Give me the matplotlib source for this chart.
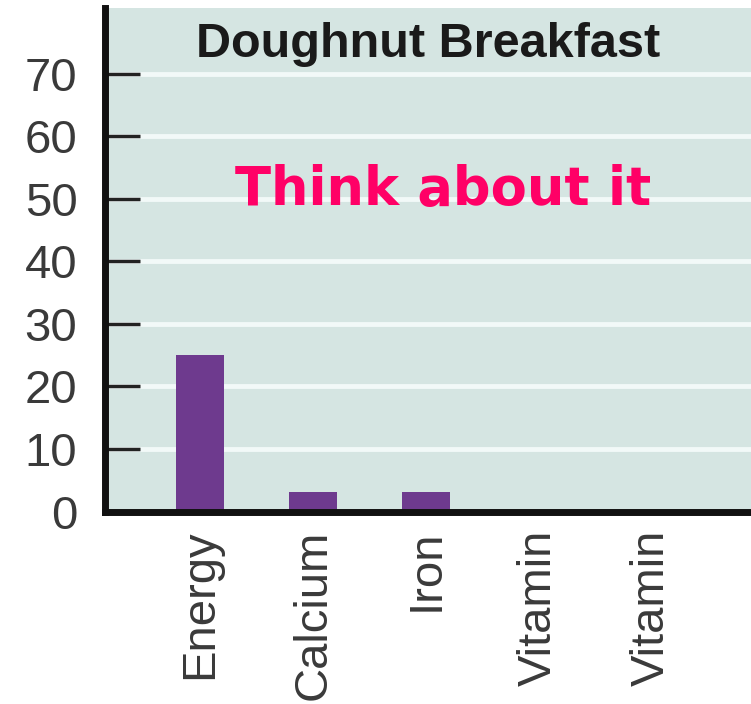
import matplotlib
matplotlib.use("Agg")
import matplotlib.pyplot as plt

# nutrient share (% daily value) from a doughnut breakfast
nutrients = ['Energy', 'Calcium', 'Iron', 'Vitamin', 'Vitamin']
values = [25, 3.2, 3.2, 0, 0]
y_ticks = [0, 10, 20, 30, 40, 50, 60, 70]

title = 'Doughnut Breakfast'
note = 'Think about it'

bg_color = '#d5e5e2'
bar_color = '#6e3a8e'
label_color = '#3a3a3a'

fig = plt.figure(figsize=(7.51, 7.04), dpi=100)
ax = fig.add_axes([0.14, 0.2734, 0.87, 0.7152])
ax.set_facecolor(bg_color)

pos = list(range(len(nutrients)))
ax.bar(pos, values, width=0.43, color=bar_color, zorder=3)

ax.set_xlim(-0.84, 4.94)
ax.set_ylim(0, 80.5)

# white grid lines
ax.set_yticks(y_ticks)
for t in y_ticks[1:]:
    ax.axhline(t, color='#f2f9f8', lw=3.5, zorder=1)

ax.set_xticks(pos)
ax.set_xticklabels(nutrients, rotation=90, fontsize=34, color=label_color,
                   family='Liberation Sans', va='top', ha='center')
ax.set_yticklabels([str(t) for t in y_ticks], fontsize=34, color=label_color,
                   family='Liberation Sans')

ax.tick_params(axis='y', direction='in', length=25, width=2.5, color='#222222',
               pad=20)
ax.tick_params(axis='x', length=0, pad=13)

for side in ['top', 'right']:
    ax.spines[side].set_visible(False)
for side in ['left', 'bottom']:
    ax.spines[side].set_linewidth(5)
    ax.spines[side].set_color('#111111')
    ax.spines[side].set_zorder(5)

fig.text(0.570, 0.919, title, fontsize=35, fontweight='bold',
         family='Liberation Sans', color='#1a1a1a', ha='center', va='baseline')
fig.text(0.5906, 0.7088, note, fontsize=38, fontweight='bold',
         family='DejaVu Sans', color='#ff0066', ha='center', va='baseline')

fig.savefig('out.png', dpi=100)
